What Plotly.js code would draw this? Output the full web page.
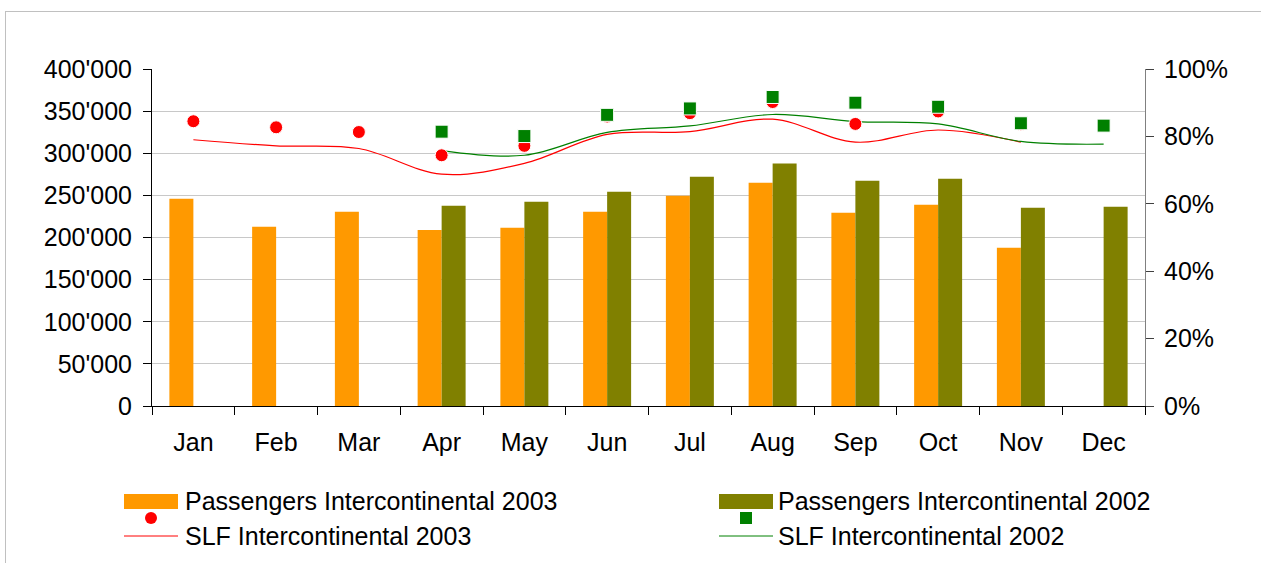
<!DOCTYPE html>
<html>
<head>
<meta charset="utf-8">
<script src="https://cdn.plot.ly/plotly-3.0.1.min.js"></script>
<style>html,body{margin:0;padding:0;background:#fff;}#chart{width:1261px;height:563px;}</style>
</head>
<body>
<div id="chart"></div>
<script>
// ---- Data ----
const months = ['Jan','Feb','Mar','Apr','May','Jun','Jul','Aug','Sep','Oct','Nov','Dec'];
const seriesNames = ['Passengers Intercontinental 2003','Passengers Intercontinental 2002','SLF Intercontinental 2003','SLF Intercontinental 2002'];
const pax2003 = [246000, 212700, 230600, 209000, 211500, 230600, 249600, 265000, 229400, 238900, 187700, null];
const pax2002 = [null, null, null, 237700, 242500, 254400, 272200, 287700, 267500, 269800, 235300, 236500];
// SLF point markers (%)
const slfPts2003 = [84.5, 82.7, 81.3, 74.4, 77.2, 85.9, 86.9, 90.2, 83.7, 87.4, 83.6, null];
const slfPts2002 = [null, null, null, 81.4, 80.1, 86.4, 88.3, 91.7, 90.0, 88.8, 83.9, 83.2];
// SLF smoothed lines (%)
const slfLine2003 = [79.0, 77.2, 76.4, 68.8, 72.0, 80.6, 81.4, 85.1, 78.3, 81.9, 78.3, null];
const slfLine2002 = [null, null, null, 75.8, 74.4, 81.2, 83.1, 86.5, 84.4, 83.7, 78.5, 77.7];
const leftTicks = [0, 50000, 100000, 150000, 200000, 250000, 300000, 350000, 400000];
const rightTicks = [0, 20, 40, 60, 80, 100];
const rightTickText = ['0%', '20%', '40%', '60%', '80%', '100%'];

// ---- Styling ----
const W = 1261, H = 563;
const M = {l: 152, r: 116, t: 69, b: 157};
const PW = W - M.l - M.r, PH = H - M.t - M.b;
const px = v => (v - M.l) / PW;
const py = v => (H - M.b - v) / PH;
const FONT = 'Liberation Sans, Arial, sans-serif';
const FS = 25;
const C03 = '#FF9900', C02 = '#808000', RED = '#FF0000', GREEN = '#008000';

const traces = [
  {type: 'bar', x: months, y: pax2003, name: seriesNames[0], marker: {color: C03}, yaxis: 'y'},
  {type: 'bar', x: months, y: pax2002, name: seriesNames[1], marker: {color: C02}, yaxis: 'y'},
  {type: 'scatter', mode: 'lines', x: months, y: slfLine2003, name: seriesNames[2], yaxis: 'y2',
   line: {color: RED, width: 1.2, shape: 'spline', smoothing: 1}, connectgaps: false},
  {type: 'scatter', mode: 'lines', x: months, y: slfLine2002, name: seriesNames[3], yaxis: 'y2',
   line: {color: GREEN, width: 1.2, shape: 'spline', smoothing: 1}, connectgaps: false},
  {type: 'scatter', mode: 'markers', x: months, y: slfPts2003, name: seriesNames[2] + ' (points)', yaxis: 'y2',
   marker: {color: RED, symbol: 'circle', size: 13, line: {color: '#ffffff', width: 1}}},
  {type: 'scatter', mode: 'markers', x: months, y: slfPts2002, name: seriesNames[3] + ' (points)', yaxis: 'y2',
   marker: {color: GREEN, symbol: 'square', size: 13, line: {color: '#ffffff', width: 1}}}
];

// legend drawn as layout decorations
const legendCols = [
  {sx: 124, tx: 183, bar: C03, mk: RED, mkType: 'circle', name1: seriesNames[0], name2: seriesNames[2]},
  {sx: 719, tx: 776, bar: C02, mk: GREEN, mkType: 'rect', name1: seriesNames[1], name2: seriesNames[3]}
];
const shapes = [
  {type: 'line', xref: 'paper', yref: 'paper', x0: px(5), x1: px(W + 2), y0: py(11.5), y1: py(11.5), line: {color: '#c0c0c0', width: 1}},
  {type: 'line', xref: 'paper', yref: 'paper', x0: px(5.5), x1: px(5.5), y0: py(11.5), y1: py(H + 2), line: {color: '#c0c0c0', width: 1}}
];
const annotations = [];
legendCols.forEach(c => {
  shapes.push({type: 'rect', xref: 'paper', yref: 'paper', x0: px(c.sx), x1: px(c.sx + 54), y0: py(494), y1: py(509), fillcolor: c.bar, line: {width: 0}});
  const cx = c.sx + 27;
  shapes.push({type: c.mkType, xref: 'paper', yref: 'paper', x0: px(cx - 6), x1: px(cx + 6), y0: py(512), y1: py(524), fillcolor: c.mk, line: {width: 0}});
  shapes.push({type: 'line', xref: 'paper', yref: 'paper', x0: px(c.sx), x1: px(c.sx + 54), y0: py(536), y1: py(536), line: {color: c.mk, width: 1}});
  annotations.push({xref: 'paper', yref: 'paper', x: px(c.tx), y: py(501), xanchor: 'left', yanchor: 'middle', showarrow: false, text: c.name1, font: {family: FONT, size: FS, color: '#000'}});
  annotations.push({xref: 'paper', yref: 'paper', x: px(c.tx), y: py(536), xanchor: 'left', yanchor: 'middle', showarrow: false, text: c.name2, font: {family: FONT, size: FS, color: '#000'}});
});

const layout = {
  width: W, height: H,
  margin: M,
  paper_bgcolor: '#ffffff', plot_bgcolor: '#ffffff',
  font: {family: FONT, size: FS, color: '#000'},
  separators: ".'",
  showlegend: false,
  barmode: 'group', bargap: 0.42, bargroupgap: 0,
  xaxis: {
    type: 'category', range: [-0.5, 11.5], tickson: 'boundaries',
    ticks: 'outside', ticklen: 8, tickcolor: '#000', tickwidth: 1,
    showline: true, linecolor: '#000', linewidth: 1, showgrid: false,
    ticklabelstandoff: 14, tickfont: {family: FONT, size: FS, color: '#000'}
  },
  yaxis: {
    range: [0, 400000], tickmode: 'array', tickvals: leftTicks, tickformat: ',d',
    ticks: 'outside', ticklen: 8, tickcolor: '#000', showline: true, linecolor: '#000', linewidth: 1,
    showgrid: true, gridcolor: '#c8c8c8', gridwidth: 1, zeroline: false,
    ticklabelstandoff: 6, tickfont: {family: FONT, size: FS, color: '#000'}
  },
  yaxis2: {
    range: [0, 100], tickmode: 'array', tickvals: rightTicks, ticktext: rightTickText, overlaying: 'y', side: 'right',
    ticks: 'outside', ticklen: 8, tickcolor: '#404040', showline: true, linecolor: '#808080', linewidth: 1,
    showgrid: false, zeroline: false,
    ticklabelstandoff: 5, tickfont: {family: FONT, size: FS, color: '#000'}
  },
  shapes: shapes,
  annotations: annotations
};

Plotly.newPlot('chart', traces, layout, {displayModeBar: false, staticPlot: true});
</script>
</body>
</html>
